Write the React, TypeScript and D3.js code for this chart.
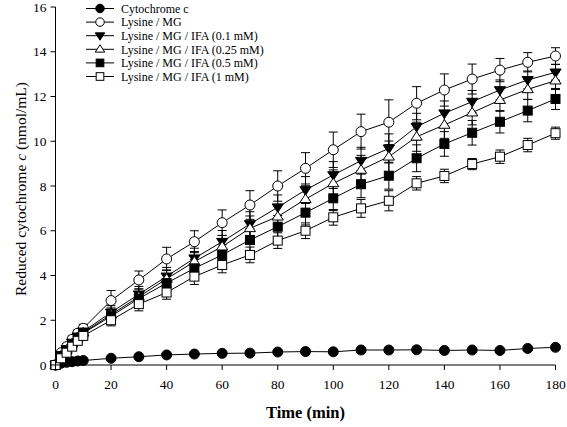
import React from "react";
import * as d3 from "d3";

const times = [0, 2, 4, 6, 8, 10, 20, 30, 40, 50, 60, 70, 80, 90, 100, 110, 120, 130, 140, 150, 160, 170, 180];

const cytC = [0, 0.08, 0.12, 0.15, 0.18, 0.2, 0.3, 0.37, 0.45, 0.49, 0.52, 0.53, 0.58, 0.6, 0.59, 0.67, 0.67, 0.68, 0.65, 0.67, 0.65, 0.74, 0.79];
const cytCErr = [0, 0.02, 0.03, 0.03, 0.03, 0.04, 0.05, 0.05, 0.06, 0.06, 0.07, 0.07, 0.08, 0.08, 0.08, 0.09, 0.09, 0.09, 0.09, 0.09, 0.09, 0.1, 0.1];

const lysMG = [0, 0.55, 0.82, 1.15, 1.42, 1.64, 2.88, 3.8, 4.74, 5.51, 6.36, 7.15, 8.0, 8.79, 9.62, 10.43, 10.85, 11.7, 12.29, 12.78, 13.18, 13.53, 13.81];
const lysMGErr = [0, 0.1, 0.12, 0.15, 0.15, 0.18, 0.45, 0.4, 0.52, 0.49, 0.57, 0.64, 0.68, 0.7, 0.79, 0.78, 1.0, 0.74, 0.72, 0.67, 0.52, 0.43, 0.37];

const ifa01 = [0, 0.45, 0.72, 1.0, 1.28, 1.5, 2.35, 3.16, 3.96, 4.77, 5.51, 6.3, 7.05, 7.82, 8.49, 9.13, 9.68, 10.65, 11.25, 11.77, 12.29, 12.74, 13.08];
const ifa01Err = [0, 0.1, 0.1, 0.12, 0.12, 0.15, 0.3, 0.35, 0.4, 0.45, 0.5, 0.55, 0.55, 0.6, 0.6, 0.6, 0.65, 0.6, 0.55, 0.5, 0.45, 0.4, 0.35];

const ifa025 = [0, 0.42, 0.68, 0.96, 1.24, 1.45, 2.25, 3.05, 3.85, 4.62, 5.29, 6.11, 6.63, 7.41, 8.12, 8.72, 9.31, 10.2, 10.73, 11.28, 11.84, 12.32, 12.71];
const ifa025Err = [0, 0.1, 0.1, 0.12, 0.12, 0.15, 0.3, 0.35, 0.4, 0.45, 0.5, 0.55, 0.55, 0.6, 0.6, 0.65, 0.7, 0.65, 0.6, 0.55, 0.5, 0.45, 0.4];

const ifa05 = [0, 0.4, 0.65, 0.92, 1.2, 1.42, 2.18, 2.97, 3.66, 4.32, 4.92, 5.59, 6.18, 6.81, 7.45, 8.08, 8.46, 9.24, 9.88, 10.38, 10.87, 11.37, 11.89];
const ifa05Err = [0, 0.1, 0.1, 0.12, 0.12, 0.15, 0.3, 0.3, 0.35, 0.4, 0.45, 0.5, 0.5, 0.55, 0.55, 0.6, 0.6, 0.6, 0.55, 0.55, 0.5, 0.5, 0.47];

const ifa1 = [0, 0.3, 0.55, 0.82, 1.08, 1.3, 2.0, 2.72, 3.24, 3.95, 4.47, 4.92, 5.56, 6.0, 6.6, 7.0, 7.34, 8.12, 8.45, 8.98, 9.31, 9.83, 10.36];
const ifa1Err = [0, 0.08, 0.08, 0.1, 0.1, 0.12, 0.25, 0.3, 0.3, 0.35, 0.35, 0.35, 0.35, 0.35, 0.35, 0.4, 0.45, 0.3, 0.3, 0.25, 0.3, 0.3, 0.27];

const seriesNames = [
  "Cytochrome c",
  "Lysine / MG",
  "Lysine / MG / IFA (0.1 mM)",
  "Lysine / MG / IFA (0.25 mM)",
  "Lysine / MG / IFA (0.5 mM)",
  "Lysine / MG / IFA (1 mM)",
];
const seriesShapes = ["circle", "circle", "triDown", "triUp", "square", "square"];
const seriesFilled = [true, false, true, false, true, false];
const seriesValues = [cytC, lysMG, ifa01, ifa025, ifa05, ifa1];
const seriesErrors = [cytCErr, lysMGErr, ifa01Err, ifa025Err, ifa05Err, ifa1Err];

const xTicks = [0, 20, 40, 60, 80, 100, 120, 140, 160, 180];
const yTicks = [0, 2, 4, 6, 8, 10, 12, 14, 16];

const W = 567;
const H = 427;
const m = { left: 55.5, right: 555.5, top: 7, bottom: 365 };

const x = d3.scaleLinear().domain([0, 180]).range([m.left, m.right]);
const y = d3.scaleLinear().domain([0, 16]).range([m.bottom, m.top]);

const FONT = "'Liberation Serif', 'Times New Roman', serif";

function Marker({ shape, filled, cx, cy, k = 1 }: { shape: string; filled: boolean; cx: number; cy: number; k?: number }) {
  const fill = filled ? "#000" : "#fff";
  const common = { fill, stroke: "#000", strokeWidth: 1 };
  if (shape === "circle") return <circle cx={cx} cy={cy} r={5 * k} {...common} />;
  if (shape === "square") return <rect x={cx - 4.5 * k} y={cy - 4.5 * k} width={9 * k} height={9 * k} {...common} />;
  const s = 5.6 * k;
  if (shape === "triDown") {
    const p = [[cx - s, cy - s * 0.6], [cx + s, cy - s * 0.6], [cx, cy + s * 0.95]];
    return <polygon points={p.map((q) => q.join(",")).join(" ")} {...common} />;
  }
  const p = [[cx - s, cy + s * 0.6], [cx + s, cy + s * 0.6], [cx, cy - s * 0.95]];
  return <polygon points={p.map((q) => q.join(",")).join(" ")} {...common} />;
}

export default function App() {
  const line = d3
    .line<number>()
    .x((_, i) => x(times[i]))
    .y((d) => y(d));

  const capHalf = 4.5;

  return (
    <svg width={W} height={H} style={{ position: "absolute", left: 0, top: 0, background: "#fff" }} fontFamily={FONT}>
      <rect width={W} height={H} fill="#fff" />
      {seriesValues.map((vals, si) => (
        <path key={"l" + si} d={line(vals) || ""} fill="none" stroke="#000" strokeWidth={1} />
      ))}
      {seriesValues.map((vals, si) =>
        vals.map((v, i) => {
          const e = seriesErrors[si][i];
          if (!e) return null;
          const cx = x(times[i]);
          const y1 = y(v + e);
          const y2 = y(v - e);
          return (
            <g key={"e" + si + "-" + i} stroke="#000" strokeWidth={1}>
              <line x1={cx} x2={cx} y1={y1} y2={y2} />
              <line x1={cx - capHalf} x2={cx + capHalf} y1={y1} y2={y1} />
              <line x1={cx - capHalf} x2={cx + capHalf} y1={y2} y2={y2} />
            </g>
          );
        })
      )}
      {seriesValues.map((vals, si) =>
        vals.map((v, i) => (
          <Marker key={"m" + si + "-" + i} shape={seriesShapes[si]} filled={seriesFilled[si]} cx={x(times[i])} cy={y(v)} />
        ))
      )}
      <line x1={m.left} x2={m.left} y1={y(16)} y2={m.bottom} stroke="#000" strokeWidth={1} />
      <line x1={m.left} x2={x(180)} y1={m.bottom} y2={m.bottom} stroke="#000" strokeWidth={1} />
      {yTicks.map((t) => (
        <g key={"yt" + t}>
          <line x1={m.left - 5} x2={m.left} y1={y(t)} y2={y(t)} stroke="#000" />
          <text x={m.left - 9} y={y(t)} dy="0.35em" textAnchor="end" fontSize={13.5}>
            {t}
          </text>
        </g>
      ))}
      {xTicks.map((t) => (
        <g key={"xt" + t}>
          <line x1={x(t)} x2={x(t)} y1={m.bottom} y2={m.bottom + 5} stroke="#000" />
          <text x={x(t)} y={m.bottom + 24} textAnchor="middle" fontSize={13.5}>
            {t}
          </text>
        </g>
      ))}
      <text x={(m.left + m.right) / 2} y={418} textAnchor="middle" fontSize={16.5} fontWeight="bold">
        Time (min)
      </text>
      <text transform={`translate(26,${(m.top + m.bottom) / 2 + 3}) rotate(-90)`} textAnchor="middle" fontSize={15.5}>
        Reduced cytochrome <tspan fontStyle="italic">c</tspan> (nmol/mL)
      </text>
      {seriesNames.map((name, i) => {
        const ly = 8.5 + i * 13.6;
        return (
          <g key={"lg" + i}>
            <line x1={86} x2={114} y1={ly} y2={ly} stroke="#000" strokeWidth={1} />
            <Marker shape={seriesShapes[i]} filled={seriesFilled[i]} cx={100} cy={ly} k={0.85} />
            <text x={121} y={ly} dy="0.35em" fontSize={12}>
              {name}
            </text>
          </g>
        );
      })}
    </svg>
  );
}
